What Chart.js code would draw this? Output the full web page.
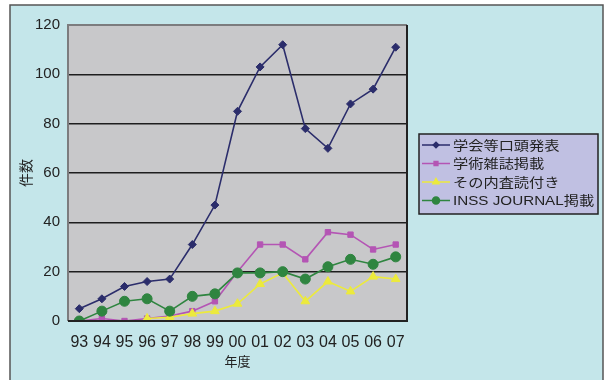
<!DOCTYPE html>
<html>
<head>
<meta charset="utf-8">
<script src="https://cdn.jsdelivr.net/npm/chart.js@4"></script>
<style>
  body { margin: 0; background: #fff; }
  canvas { display: block; }
</style>
</head>
<body>
<canvas id="pubChart" width="608" height="380"></canvas>
<script>
var years = ["93", "94", "95", "96", "97", "98", "99", "00", "01", "02", "03", "04", "05", "06", "07"];
var seriesNames = ["学会等口頭発表", "学術雑誌掲載", "その内査読付き", "INSS JOURNAL掲載"];
var oralTalks = [5, 9, 14, 16, 17, 31, 47, 85, 103, 112, 78, 70, 88, 94, 111];
var journalPapers = [0, 1, 0, 1, 2, 4, 8, 20, 31, 31, 25, 36, 35, 29, 31];
var refereed = [null, null, null, 1, 1.5, 3, 4, 7, 15, 19.5, 8, 16, 12, 18, 17];
var inssJournal = [0, 4, 8, 9, 4, 10, 11, 19.5, 19.5, 20, 17, 22, 25, 23, 26];
var yTicks = [0, 20, 40, 60, 80, 100, 120];

var fontFamily = '"Liberation Sans", "Noto Sans CJK JP", sans-serif';
var colors = ["#2b2d6b", "#b455b4", "#ecea3c", "#2f8540"];
var markers = ["rectRot", "rect", "triangle", "circle"];
var markerSize = [4, 3.8, 5, 5];

// cyan panel, grey plot area and its frame
var backdrop = {
  id: "backdrop",
  beforeDraw: function(chart) {
    var c = chart.ctx, a = chart.chartArea;
    c.save();
    c.fillStyle = "#c4e6ea";
    c.fillRect(10, 5, 593, 380);
    c.strokeStyle = "#555";
    c.lineWidth = 1.5;
    c.strokeRect(10, 5, 593, 380);
    c.fillStyle = "#c8c8ca";
    c.fillRect(a.left, a.top, a.right - a.left, a.bottom - a.top);
    c.restore();
  },
  afterDatasetsDraw: function(chart) {
    var c = chart.ctx, a = chart.chartArea;
    c.save();
    c.lineWidth = 2;
    c.strokeStyle = "#7c7c7e";
    c.beginPath();
    c.moveTo(a.left, a.bottom);
    c.lineTo(a.left, a.top);
    c.lineTo(a.right, a.top);
    c.stroke();
    c.strokeStyle = "#222";
    c.beginPath();
    c.moveTo(a.right, a.top);
    c.lineTo(a.right, a.bottom);
    c.lineTo(a.left, a.bottom);
    c.stroke();
    c.restore();
  }
};

// boxed legend to the right of the plot (text is set a little wide)
var legendBox = {
  id: "legendBox",
  afterDraw: function(chart) {
    var c = chart.ctx;
    var x = 419, y = 134, w = 179, h = 80;
    c.save();
    c.fillStyle = "#c0c0e2";
    c.fillRect(x, y, w, h);
    c.strokeStyle = "#222";
    c.lineWidth = 1.5;
    c.strokeRect(x, y, w, h);
    c.font = "13px " + fontFamily;
    c.textBaseline = "middle";
    chart.data.datasets.forEach(function(ds, i) {
      var ry = y + 11 + i * 18.5;
      c.strokeStyle = ds.borderColor;
      c.lineWidth = 1.5;
      c.beginPath();
      c.moveTo(x + 3, ry);
      c.lineTo(x + 31, ry);
      c.stroke();
      c.fillStyle = ds.pointBackgroundColor;
      c.strokeStyle = ds.pointBorderColor;
      Chart.helpers.drawPoint(c, {
        pointStyle: ds.pointStyle,
        radius: ds.pointRadius * 0.7,
        borderWidth: 1
      }, x + 17, ry);
      c.save();
      c.translate(x + 34, ry + 1);
      c.scale(1.17, 1);
      c.fillStyle = "#222";
      c.fillText(ds.label, 0, 0);
      c.restore();
    });
    c.restore();
  }
};

function makeSet(i, values) {
  return {
    label: seriesNames[i],
    data: values,
    borderColor: colors[i],
    backgroundColor: colors[i],
    pointBackgroundColor: colors[i],
    pointBorderColor: colors[i],
    pointStyle: markers[i],
    pointRadius: markerSize[i],
    pointBorderWidth: 1,
    borderWidth: 1.6,
    tension: 0,
    spanGaps: false,
    order: 4 - i
  };
}

new Chart(document.getElementById("pubChart"), {
  type: "line",
  data: {
    labels: years,
    datasets: [
      makeSet(0, oralTalks),
      makeSet(1, journalPapers),
      makeSet(2, refereed),
      makeSet(3, inssJournal)
    ]
  },
  options: {
    responsive: false,
    animation: false,
    layout: { padding: { left: 10, top: 25, right: 201, bottom: 0 } },
    plugins: { legend: { display: false }, tooltip: { enabled: false } },
    scales: {
      x: {
        offset: true,
        grid: { display: false },
        border: { display: false },
        ticks: { color: "#222", padding: 4, maxRotation: 0, autoSkip: false,
                 font: { family: fontFamily, size: 16 } },
        title: { display: true, text: "年度", color: "#222", padding: { top: 0, bottom: 10 },
                 font: { family: fontFamily, size: 13 } },
        afterFit: function(s) { s.height = 59; }
      },
      y: {
        min: 0,
        max: 120,
        afterBuildTicks: function(s) { s.ticks = yTicks.map(function(v) { return { value: v }; }); },
        grid: {
          drawTicks: false,
          lineWidth: 1.6,
          color: function(ctx) {
            var v = ctx.tick && ctx.tick.value;
            return (v === 0 || v === 120) ? "rgba(0,0,0,0)" : "#1e1e1e";
          }
        },
        border: { display: false },
        ticks: { color: "#222", padding: 8, font: { family: fontFamily, size: 15 } },
        title: { display: true, text: "件数", color: "#222", padding: { top: 9, bottom: 0 },
                 font: { family: fontFamily, size: 14 } },
        afterFit: function(s) { s.width = 58; }
      }
    }
  },
  plugins: [backdrop, legendBox]
});
</script>
</body>
</html>
